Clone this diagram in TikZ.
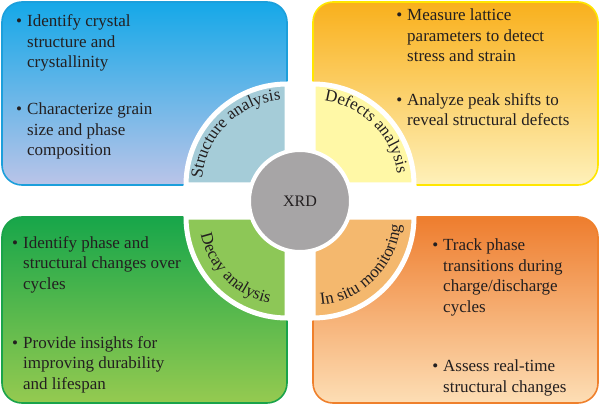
\documentclass[tikz,border=0pt]{standalone}
\usepackage{xcolor}
\usepackage{fontspec}
\setmainfont{Liberation Serif}
\usetikzlibrary{decorations.text}
\definecolor{inkcol}{HTML}{231F20}
\definecolor{tlline}{HTML}{1C9FDB}
\definecolor{tltop}{HTML}{15A8E8}
\definecolor{tlbot}{HTML}{BAC4E8}
\definecolor{tlwedge}{HTML}{A5CCD8}
\definecolor{trline}{HTML}{FFE600}
\definecolor{trtop}{HTML}{F9B01C}
\definecolor{trbot}{HTML}{FEF1BA}
\definecolor{trwedge}{HTML}{FFF8A6}
\definecolor{blline}{HTML}{1AA34A}
\definecolor{bltop}{HTML}{17A64A}
\definecolor{blbot}{HTML}{95CA50}
\definecolor{blwedge}{HTML}{8DC757}
\definecolor{brline}{HTML}{EF802C}
\definecolor{brtop}{HTML}{EE7D2E}
\definecolor{brbot}{HTML}{FDDEB5}
\definecolor{brwedge}{HTML}{F4B86E}
\definecolor{xrdgray}{HTML}{A7A5A6}
\newlength{\wedgerad}
\setlength{\wedgerad}{101pt}
\newcommand{\arcfont}{\fontsize{17}{19}\selectfont\color{inkcol}}
\newcommand{\bul}{\llap{\textbullet\hspace{5pt}}}
\tikzset{
  panel/.style={line width=1.6pt, rounded corners=20pt},
  wedge/.style={draw=white, line width=5pt},
  itemtext/.style={anchor=base west, align=left, inner sep=0pt, text=inkcol, font=\fontsize{17}{20.5}\selectfont},
  arclabel/.style={decorate, decoration={text along path, text align=center, text={|\arcfont|#1}}}
}
\begin{document}
\begin{tikzpicture}[x=1pt,y=1pt]
            \useasboundingbox (0,0) rectangle (600,405);
            \path[panel, draw=tlline, top color=tltop, bottom color=tlbot] (2,220) rectangle (287,403);
            \path[panel, draw=trline, top color=trtop, bottom color=trbot] (313,220) rectangle (598,403);
            \path[panel, draw=blline, top color=bltop, bottom color=blbot] (2,2) rectangle (287,188);
            \path[panel, draw=brline, top color=brtop, bottom color=brbot] (313,2) rectangle (598,188);
            \coordinate (ctl) at (287,220);
            \coordinate (ctr) at (313,220);
            \coordinate (cbl) at (287,188);
            \coordinate (cbr) at (313,188);
            \filldraw[wedge, fill=tlwedge] (ctl) -- ++(-\wedgerad,0) arc[start angle=180, end angle=90, radius=\wedgerad] -- cycle;
            \filldraw[wedge, fill=trwedge] (ctr) -- ++(0,\wedgerad) arc[start angle=90, end angle=0, radius=\wedgerad] -- cycle;
            \filldraw[wedge, fill=blwedge] (cbl) -- ++(-\wedgerad,0) arc[start angle=180, end angle=270, radius=\wedgerad] -- cycle;
            \filldraw[wedge, fill=brwedge] (cbr) -- ++(0,-\wedgerad) arc[start angle=270, end angle=360, radius=\wedgerad] -- cycle;
            \path[arclabel=Structure analysis] ([xshift=-85pt]ctl) arc[start angle=180, end angle=90, radius=85];
            \path[arclabel=Defects analysis] ([yshift=85pt]ctr) arc[start angle=90, end angle=0, radius=85];
            \path[arclabel=Decay analysis] ([xshift=-88pt]cbl) arc[start angle=180, end angle=270, radius=88];
            \path[arclabel=In situ monitoring] ([yshift=-88pt]cbr) arc[start angle=270, end angle=360, radius=88];
            \node[circle, fill=xrdgray, draw=white, line width=4pt, minimum size=102pt, inner sep=0pt, text=inkcol, font=\fontsize{16}{18}\selectfont] (xrd) at (300,204) {XRD};
            \node[itemtext] (tl1) at (27,337) {\bul Identify crystal\\structure and\\crystallinity};
            \node[itemtext] (tl2) at (27,249) {\bul Characterize grain\\size and phase\\composition};
            \node[itemtext] (tr1) at (407,343) {\bul Measure lattice\\parameters to detect\\stress and strain};
            \node[itemtext] (tr2) at (407,279) {\bul Analyze peak shifts to\\reveal structural defects};
            \node[itemtext] (bl1) at (23,116) {\bul Identify phase and\\structural changes over\\cycles};
            \node[itemtext] (bl2) at (23,16) {\bul Provide insights for\\improving durability\\and lifespan};
            \node[itemtext] (br1) at (443,93) {\bul Track phase\\transitions during\\charge/discharge\\cycles};
            \node[itemtext] (br2) at (443,13) {\bul Assess real-time\\structural changes};
\end{tikzpicture}
\end{document}
